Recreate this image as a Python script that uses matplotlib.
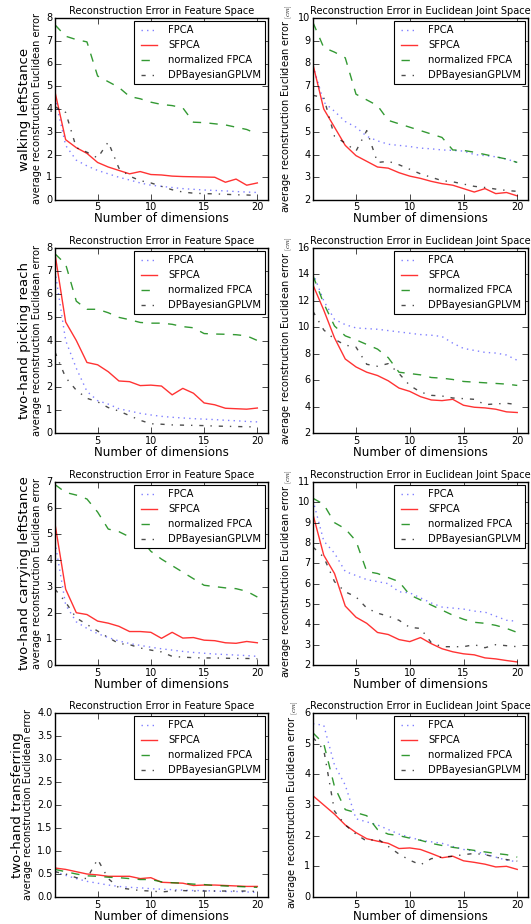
import matplotlib
matplotlib.use('Agg')
import matplotlib.pyplot as plt
import numpy as np

plt.style.use('classic')
plt.rcParams['figure.facecolor'] = 'white'
plt.rcParams['savefig.facecolor'] = 'white'
plt.rcParams['font.family'] = ['DejaVu Sans']

# ==============================================================
# DATA
# ==============================================================

dims = list(range(1, 21))

methods = ['FPCA', 'SFPCA', 'normalized FPCA', 'DPBayesianGPLVM']

rows = ['walking leftStance', 'two-hand picking reach',
        'two-hand carrying leftStance', 'two-hand transferring']

# walking leftStance
walk_feat_fpca = [4.5, 2.4, 1.75, 1.5, 1.3, 1.15, 1.0, 0.88, 0.75, 0.65,
                  0.6, 0.55, 0.5, 0.47, 0.44, 0.42, 0.4, 0.37, 0.35, 0.33]
walk_feat_sfpca = [4.75, 2.65, 2.3, 2.05, 1.65, 1.45, 1.3, 1.15, 1.25, 1.12,
                   1.1, 1.05, 1.03, 1.02, 1.01, 1.0, 0.78, 0.92, 0.65, 0.75]
walk_feat_norm = [7.7, 7.2, 7.05, 6.95, 5.45, 5.2, 4.95, 4.55, 4.45, 4.3,
                  4.2, 4.15, 4.05, 3.42, 3.4, 3.35, 3.3, 3.2, 3.1, 2.9]
walk_feat_dpb = [4.1, 3.85, 2.3, 2.1, 1.85, 2.55, 1.4, 1.05, 0.85, 0.75,
                 0.6, 0.45, 0.35, 0.3, 0.28, 0.27, 0.25, 0.23, 0.22, 0.2]

walk_joint_fpca = [7.9, 6.3, 5.9, 5.45, 5.2, 4.8, 4.6, 4.45, 4.4, 4.35,
                   4.28, 4.25, 4.2, 4.18, 4.15, 4.0, 3.95, 3.9, 3.8, 3.65]
walk_joint_sfpca = [7.95, 6.0, 5.2, 4.4, 3.95, 3.7, 3.45, 3.4, 3.2, 3.05,
                    2.95, 2.82, 2.72, 2.65, 2.5, 2.35, 2.5, 2.28, 2.33, 2.18]
walk_joint_norm = [9.8, 8.7, 8.5, 8.25, 6.65, 6.4, 6.15, 5.5, 5.35, 5.2,
                   5.05, 4.9, 4.75, 4.2, 4.18, 4.1, 4.0, 3.9, 3.8, 3.65]
walk_joint_dpb = [6.6, 6.5, 4.8, 4.5, 4.15, 5.05, 3.65, 3.7, 3.55, 3.35,
                  3.15, 3.0, 2.85, 2.8, 2.7, 2.6, 2.55, 2.48, 2.42, 2.38]

# two-hand picking reach
pick_feat_fpca = [7.0, 4.0, 2.8, 1.8, 1.4, 1.25, 1.05, 0.95, 0.85, 0.78,
                  0.72, 0.68, 0.65, 0.62, 0.6, 0.58, 0.55, 0.53, 0.5, 0.48]
pick_feat_sfpca = [7.75, 4.8, 4.0, 3.05, 2.95, 2.65, 2.25, 2.22, 2.05, 2.07,
                   2.03, 1.65, 1.93, 1.72, 1.3, 1.22, 1.07, 1.05, 1.03, 1.08]
pick_feat_norm = [7.75, 7.3, 5.7, 5.35, 5.35, 5.2, 5.0, 4.9, 4.78, 4.75,
                  4.75, 4.7, 4.6, 4.55, 4.3, 4.28, 4.27, 4.25, 4.2, 4.0]
pick_feat_dpb = [3.5, 2.4, 1.85, 1.5, 1.35, 1.1, 0.95, 0.75, 0.55, 0.4,
                 0.38, 0.35, 0.34, 0.33, 0.32, 0.3, 0.29, 0.28, 0.27, 0.26]

pick_joint_fpca = [14.1, 12.0, 10.6, 10.2, 9.95, 9.9, 9.85, 9.75, 9.65, 9.55,
                   9.45, 9.4, 9.3, 8.8, 8.4, 8.25, 8.1, 8.05, 7.9, 7.5]
pick_joint_sfpca = [13.2, 11.3, 9.2, 7.6, 7.0, 6.6, 6.35, 5.95, 5.4, 5.15,
                    4.75, 4.5, 4.45, 4.55, 4.1, 3.95, 3.9, 3.8, 3.6, 3.55]
pick_joint_norm = [13.9, 11.8, 10.1, 9.35, 9.05, 8.7, 8.35, 7.7, 6.6, 6.5,
                   6.4, 6.2, 6.15, 6.05, 5.9, 5.85, 5.8, 5.75, 5.7, 5.6]
pick_joint_dpb = [11.2, 9.8, 9.1, 8.65, 8.5, 7.2, 7.05, 7.25, 6.5, 5.6,
                  5.1, 4.85, 4.8, 4.65, 4.6, 4.55, 4.15, 4.2, 4.25, 4.15]

# two-hand carrying leftStance
carry_feat_fpca = [4.7, 2.3, 1.65, 1.4, 1.2, 1.05, 0.92, 0.82, 0.75, 0.68,
                   0.62, 0.57, 0.52, 0.48, 0.45, 0.42, 0.4, 0.38, 0.36, 0.33]
carry_feat_sfpca = [5.4, 2.9, 2.0, 1.93, 1.68, 1.6, 1.48, 1.28, 1.28, 1.25,
                    1.02, 1.25, 1.03, 1.05, 0.95, 0.93, 0.85, 0.83, 0.9, 0.85]
carry_feat_norm = [6.9, 6.6, 6.5, 6.35, 5.85, 5.2, 5.1, 4.9, 4.85, 4.35,
                   4.05, 3.8, 3.55, 3.3, 3.05, 3.0, 2.95, 2.92, 2.82, 2.6]
carry_feat_dpb = [2.9, 2.4, 1.8, 1.55, 1.3, 1.05, 0.82, 0.78, 0.65, 0.57,
                  0.5, 0.33, 0.3, 0.28, 0.27, 0.27, 0.26, 0.25, 0.25, 0.24]

carry_joint_fpca = [10.1, 8.1, 7.5, 6.6, 6.4, 6.2, 6.1, 6.0, 5.6, 5.55,
                    5.3, 5.05, 4.85, 4.8, 4.75, 4.65, 4.6, 4.4, 4.2, 4.15]
carry_joint_sfpca = [9.4, 7.4, 6.5, 4.9, 4.35, 4.05, 3.6, 3.5, 3.25, 3.15,
                     3.35, 3.05, 2.8, 2.65, 2.55, 2.5, 2.35, 2.3, 2.22, 2.15]
carry_joint_norm = [10.2, 9.9, 9.0, 8.7, 8.1, 6.6, 6.5, 6.3, 6.1, 5.45,
                    5.2, 4.95, 4.7, 4.45, 4.25, 4.1, 4.05, 3.95, 3.8, 3.6]
carry_joint_dpb = [7.8, 7.3, 6.1, 5.6, 5.35, 4.8, 4.55, 4.4, 4.2, 3.85,
                   3.8, 3.1, 2.9, 2.9, 2.9, 3.0, 2.85, 3.0, 2.95, 2.9]

# two-hand transferring
trans_feat_fpca = [0.55, 0.47, 0.4, 0.34, 0.3, 0.26, 0.23, 0.21, 0.2, 0.18,
                   0.17, 0.16, 0.15, 0.14, 0.14, 0.13, 0.12, 0.12, 0.11, 0.1]
trans_feat_sfpca = [0.63, 0.6, 0.55, 0.5, 0.48, 0.45, 0.45, 0.45, 0.4, 0.42,
                    0.32, 0.31, 0.3, 0.25, 0.26, 0.26, 0.25, 0.24, 0.23, 0.23]
trans_feat_norm = [0.6, 0.55, 0.5, 0.46, 0.45, 0.43, 0.42, 0.4, 0.38, 0.38,
                   0.33, 0.31, 0.3, 0.28, 0.27, 0.25, 0.24, 0.23, 0.22, 0.21]
trans_feat_dpb = [0.55, 0.5, 0.42, 0.4, 0.82, 0.4, 0.2, 0.17, 0.14, 0.13,
                  0.11, 0.13, 0.14, 0.13, 0.13, 0.13, 0.13, 0.13, 0.13, 0.12]

trans_joint_fpca = [5.65, 5.6, 4.3, 3.65, 2.55, 2.45, 2.35, 2.2, 2.05, 1.95,
                    1.85, 1.8, 1.75, 1.65, 1.55, 1.5, 1.4, 1.3, 1.2, 1.15]
trans_joint_sfpca = [3.3, 3.0, 2.7, 2.35, 2.1, 1.9, 1.82, 1.75, 1.58, 1.6,
                     1.55, 1.42, 1.28, 1.33, 1.18, 1.13, 1.07, 0.98, 1.0, 0.9]
trans_joint_norm = [5.35, 5.0, 3.6, 2.85, 2.75, 2.65, 2.2, 2.05, 2.0, 1.92,
                    1.85, 1.75, 1.68, 1.62, 1.57, 1.52, 1.47, 1.42, 1.38, 1.3]
trans_joint_dpb = [5.2, 4.8, 2.8, 2.35, 2.05, 1.82, 1.9, 1.65, 1.4, 1.2,
                   1.05, 1.25, 1.3, 1.33, 1.38, 1.42, 1.38, 1.3, 1.22, 1.17]

feat_series = [
    [walk_feat_fpca, walk_feat_sfpca, walk_feat_norm, walk_feat_dpb],
    [pick_feat_fpca, pick_feat_sfpca, pick_feat_norm, pick_feat_dpb],
    [carry_feat_fpca, carry_feat_sfpca, carry_feat_norm, carry_feat_dpb],
    [trans_feat_fpca, trans_feat_sfpca, trans_feat_norm, trans_feat_dpb],
]
joint_series = [
    [walk_joint_fpca, walk_joint_sfpca, walk_joint_norm, walk_joint_dpb],
    [pick_joint_fpca, pick_joint_sfpca, pick_joint_norm, pick_joint_dpb],
    [carry_joint_fpca, carry_joint_sfpca, carry_joint_norm, carry_joint_dpb],
    [trans_joint_fpca, trans_joint_sfpca, trans_joint_norm, trans_joint_dpb],
]

feat_ylim = [(0, 8), (0, 8), (0, 7), (0, 4)]
joint_ylim = [(2, 10), (2, 16), (2, 11), (0, 6)]

# ==============================================================
# STYLE
# ==============================================================

styles = [
    dict(color='b', linestyle=':', alpha=0.5),
    dict(color='r', linestyle='-', alpha=0.8),
    dict(color='g', linestyle='--', alpha=0.8),
    dict(color='k', linestyle='-.', alpha=0.7),
]

fig = plt.figure(figsize=(5.31, 9.24), dpi=100)

W, H = 531.0, 924.0
row_px = [(18, 200), (248, 433), (482, 665), (713, 897)]
col_px = [(55, 268), (313, 528)]
row_label_x = [25, 25, 25, 18]


def draw(ax, series, ylim, title, ylabel):
    for vals, name, st in zip(series, methods, styles):
        ax.plot(dims, vals, label=name, linewidth=1.0, **st)
    ax.set_xlim(1, 21)
    ax.set_ylim(*ylim)
    ax.set_xticks([5, 10, 15, 20])
    ax.set_title(title, fontsize=7, pad=3)
    ax.set_xlabel('Number of dimensions', fontsize=8.6, labelpad=0)
    ax.set_ylabel(ylabel, fontsize=7, labelpad=3)
    ax.tick_params(labelsize=7, pad=1.8)
    leg = ax.legend(loc='upper right', fontsize=7.2, handlelength=2.2,
                    borderaxespad=0.3, labelspacing=0.5)
    leg.get_frame().set_linewidth(0.8)


for i in range(4):
    top, bot = row_px[i]
    y0 = 1 - bot / H
    h = (bot - top) / H

    l, r = col_px[0]
    ax1 = fig.add_axes([l / W, y0, (r - l) / W, h])
    draw(ax1, feat_series[i], feat_ylim[i],
         'Reconstruction Error in Feature Space',
         'average reconstruction Euclidean error')

    l, r = col_px[1]
    ax2 = fig.add_axes([l / W, y0, (r - l) / W, h])
    draw(ax2, joint_series[i], joint_ylim[i],
         'Reconstruction Error in Euclidean Joint Space',
         r'average reconstruction Euclidean error $_{[cm]}$')

    fig.text(row_label_x[i] / W, y0 + h / 2, rows[i], rotation=90,
             fontsize=9.5, ha='center', va='center')

fig.savefig('out.png', dpi=100)
